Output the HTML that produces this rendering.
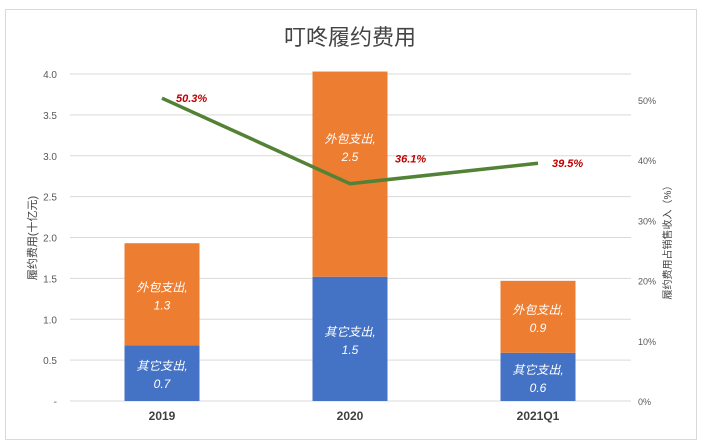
<!DOCTYPE html>
<html><head><meta charset="utf-8"><style>
body{margin:0;background:#fff;}
svg{display:block;font-family:"Liberation Sans","Noto Sans CJK SC",sans-serif;}
</style></head><body>
<svg id="c" width="704" height="442">
<rect x="5.5" y="9.5" width="691" height="430" fill="#fff" stroke="#d9d9d9"/>
<text x="350" y="45" text-anchor="middle" font-size="22" fill="#444">叮咚履约费用</text>
<text transform="translate(36,238) rotate(-90)" text-anchor="middle" font-size="11" fill="#444">履约费用(十亿元)</text>
<text transform="translate(671,240) rotate(-90)" text-anchor="middle" font-size="10" fill="#444">履约费用占销售收入（%）</text>
<g id="grid"></g><g id="bars"></g><g id="line"></g>
</svg>
<script>
const categories=["2019","2020","2021Q1"];
const otherValues=[0.68,1.52,0.59];
const outsourceValues=[1.25,2.51,0.88];
const otherLabels=["0.7","1.5","0.6"];
const outsourceLabels=["1.3","2.5","0.9"];
const ratioValues=[50.3,36.1,39.5];
const leftTicks=[0,0.5,1,1.5,2,2.5,3,3.5,4];
const leftTickLabels=["-","0.5","1.0","1.5","2.0","2.5","3.0","3.5","4.0"];
const rightTicks=[0,10,20,30,40,50];
const NS="http://www.w3.org/2000/svg";
const y0=401, yTop=74;
const yL=v=>y0-v/4*(y0-yTop);
const yR=p=>y0-p/50*(y0-100);
const xC=i=>162+i*188;
function mk(t,a,p){const e=document.createElementNS(NS,t);for(const k in a)e.setAttribute(k,a[k]);p.appendChild(e);return e;}
const g=document.getElementById('grid');
leftTicks.forEach((v,i)=>{
 const l=mk('line',{x1:70,x2:631,y1:yL(v),y2:yL(v),stroke:'#d9d9d9'},g);
 
 
 const t=mk('text',{x:57,y:yL(v)+4,'text-anchor':'end','font-size':10,fill:'#595959'},g);
 t.textContent=leftTickLabels[i];
 
 
});
rightTicks.forEach(p=>{
 const t=mk('text',{x:638,y:yR(p)+4,'font-size':9,fill:'#595959'},g);
 t.textContent=p+'%';
 
 
});
const b=document.getElementById('bars');
categories.forEach((c,i)=>{
 const x=xC(i)-37.5;
 const r1=mk('rect',{x:x,y:yL(otherValues[i]),width:75,height:y0-yL(otherValues[i]),fill:'#4472c4'},b);
 
 
 const tot=otherValues[i]+outsourceValues[i];
 const r2=mk('rect',{x:x,y:yL(tot),width:75,height:yL(otherValues[i])-yL(tot),fill:'#ed7d31'},b);
 
 
 const m1=(y0+yL(otherValues[i]))/2;
 const t1=mk('text',{x:xC(i),y:m1-3,'text-anchor':'middle','font-size':12,'font-style':'italic',fill:'#fff'},b);
 t1.textContent='其它支出,';
 
 
 const t1b=mk('text',{x:xC(i),y:m1+15,'text-anchor':'middle','font-size':12,'font-style':'italic',fill:'#fff'},b);
 t1b.textContent=otherLabels[i];
 
 
 let m2=(yL(otherValues[i])+yL(tot))/2;
 if(i===1) m2-=28;
 const t2=mk('text',{x:xC(i),y:m2-3,'text-anchor':'middle','font-size':12,'font-style':'italic',fill:'#fff'},b);
 t2.textContent='外包支出,';
 
 
 const t2b=mk('text',{x:xC(i),y:m2+15,'text-anchor':'middle','font-size':12,'font-style':'italic',fill:'#fff'},b);
 t2b.textContent=outsourceLabels[i];
 
 
 const xl=mk('text',{x:xC(i),y:420,'text-anchor':'middle','font-size':12,'font-weight':'bold',fill:'#404040'},b);
 xl.textContent=c;
 
 
});
const lg=document.getElementById('line');
const pts=ratioValues.map((p,i)=>xC(i)+','+yR(p)).join(' ');
const pl=mk('polyline',{points:pts,fill:'none',stroke:'#538135','stroke-width':3.5},lg);


ratioValues.forEach((p,i)=>{
 const t=mk('text',{x:xC(i)+14,y:yR(p)+4,'font-size':11,'font-weight':'bold','font-style':'italic',fill:'#c00000'},lg);
 t.textContent=p.toFixed(1)+'%';
 if(i===1){t.setAttribute('x',xC(i)+45);t.setAttribute('y',yR(p)-21);}
 
 
});
</script>
</body></html>
